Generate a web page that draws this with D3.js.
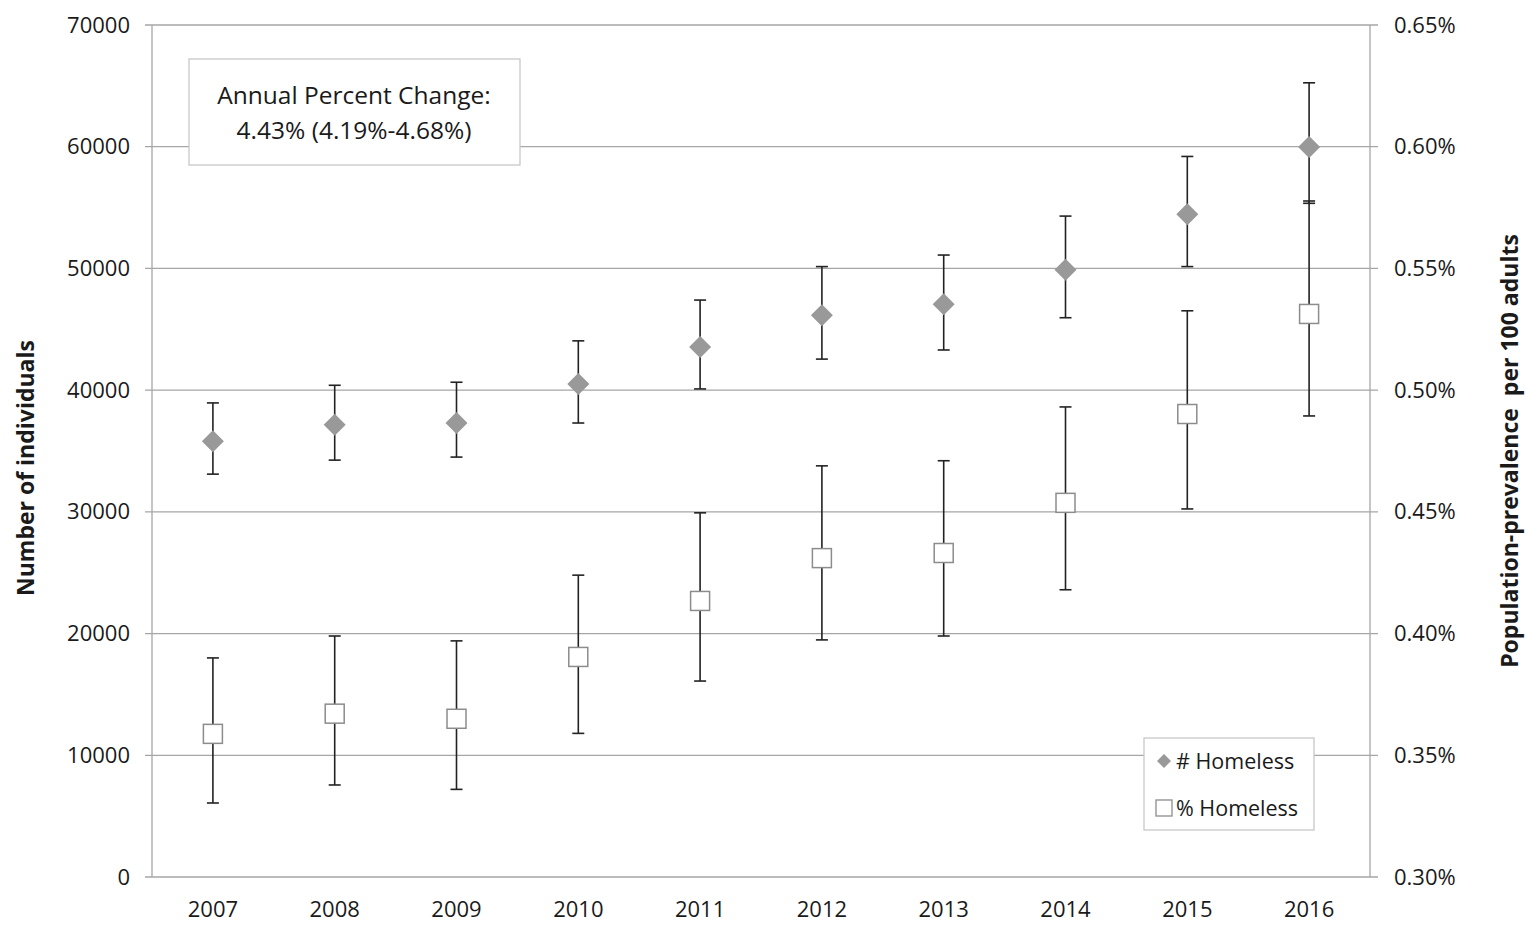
<!DOCTYPE html>
<meta charset="utf-8">
<style>
  body { margin: 0; background: #fff; }
  text { font-family: "Open Sans", "Noto Sans", sans-serif; fill: #1a1a1a; }
  .tick text { font-size: 22px; }
</style>
<body>
<svg class="chart"></svg>
<script src="https://d3js.org/d3.v7.min.js"></script>
<script>

// Data
var years = ["2007","2008","2009","2010","2011","2012","2013","2014","2015","2016"];

// # Homeless (left axis) with 95% interval
var countVal = [35800, 37150, 37300, 40500, 43550, 46150, 47050, 49900, 54450, 59980];
var countLo  = [33100, 34250, 34500, 37300, 40100, 42550, 43300, 45950, 50150, 55350];
var countHi  = [38950, 40400, 40650, 44050, 47400, 50150, 51100, 54300, 59200, 65250];

// % Homeless (right axis, percent) with 95% interval
var pctVal = [0.3588, 0.3671, 0.3650, 0.3904, 0.4134, 0.4310, 0.4331, 0.4537, 0.4902, 0.5313];
var pctLo  = [0.3304, 0.3378, 0.3360, 0.3590, 0.3805, 0.3974, 0.3990, 0.4180, 0.4512, 0.4894];
var pctHi  = [0.3900, 0.3990, 0.3970, 0.4240, 0.4496, 0.4689, 0.4710, 0.4931, 0.5326, 0.5777];

var leftTicks  = [0, 10000, 20000, 30000, 40000, 50000, 60000, 70000];
var rightTicks = [0.30, 0.35, 0.40, 0.45, 0.50, 0.55, 0.60, 0.65];

var margin = { top: 25, right: 156, bottom: 53, left: 152 };
var W = 1526, H = 930;
var width = W - margin.left - margin.right;
var height = H - margin.top - margin.bottom;

var svg = d3.select(".chart").attr("width", W).attr("height", H);
var chart = svg.append("g")
    .attr("transform", "translate(" + margin.left + "," + margin.top + ")");

var x = d3.scaleBand().domain(years).range([0, width]);
var yL = d3.scaleLinear().domain([0, 70000]).range([height, 0]);
var yR = d3.scaleLinear().domain([0.30, 0.65]).range([height, 0]);

var grid = "#a6a6a6";

// gridlines (with the little outer ticks on both sides)
chart.selectAll("line.grid")
    .data(leftTicks)
  .enter().append("line")
    .attr("class", "grid")
    .attr("x1", -7).attr("x2", width + 8)
    .attr("y1", function(d) { return yL(d); })
    .attr("y2", function(d) { return yL(d); })
    .attr("stroke", grid).attr("stroke-width", 1.3);

// vertical axis lines
chart.append("line").attr("x1", 0).attr("x2", 0).attr("y1", 0).attr("y2", height)
    .attr("stroke", grid).attr("stroke-width", 1.3);
chart.append("line").attr("x1", width).attr("x2", width).attr("y1", 0).attr("y2", height)
    .attr("stroke", grid).attr("stroke-width", 1.3);

// left axis labels
var leftAxis = chart.append("g")
    .call(d3.axisLeft(yL).tickValues(leftTicks).tickSize(0).tickPadding(22).tickFormat(d3.format("d")));
leftAxis.select(".domain").remove();

// right axis labels
var rightAxis = chart.append("g")
    .attr("transform", "translate(" + width + ",0)")
    .call(d3.axisRight(yR).tickValues(rightTicks).tickSize(0).tickPadding(24)
      .tickFormat(function(d) { return d.toFixed(2) + "%"; }));
rightAxis.select(".domain").remove();

// bottom axis labels
var bottomAxis = chart.append("g")
    .attr("transform", "translate(0," + height + ")")
    .call(d3.axisBottom(x).tickSize(0).tickPadding(24));
bottomAxis.select(".domain").remove();

chart.selectAll(".tick text").style("fill", "#1a1a1a");

// axis titles
svg.append("text")
    .attr("transform", "translate(34," + (margin.top + height * 0.52) + ") rotate(-90)")
    .attr("text-anchor", "middle")
    .style("font-size", "23px").style("font-weight", "bold")
    .text("Number of individuals");

svg.append("text")
    .attr("transform", "translate(1518," + (margin.top + height * 0.5) + ") rotate(-90)")
    .attr("text-anchor", "middle")
    .style("font-size", "23px").style("font-weight", "bold")
    .style("white-space", "pre")
    .text("Population-prevalence  per 100 adults");

var cx = function(i) { return x(years[i]) + x.bandwidth() / 2; };
var idx = d3.range(years.length);

function errorBars(lo, hi, scale) {
  var g = chart.append("g").attr("stroke", "#222").attr("stroke-width", 1.6);
  g.selectAll("line.v").data(idx).enter().append("line")
      .attr("x1", cx).attr("x2", cx)
      .attr("y1", function(i) { return scale(lo[i]); })
      .attr("y2", function(i) { return scale(hi[i]); });
  g.selectAll("line.t").data(idx).enter().append("line")
      .attr("x1", function(i) { return cx(i) - 6; }).attr("x2", function(i) { return cx(i) + 6; })
      .attr("y1", function(i) { return scale(hi[i]); }).attr("y2", function(i) { return scale(hi[i]); });
  g.selectAll("line.b").data(idx).enter().append("line")
      .attr("x1", function(i) { return cx(i) - 6; }).attr("x2", function(i) { return cx(i) + 6; })
      .attr("y1", function(i) { return scale(lo[i]); }).attr("y2", function(i) { return scale(lo[i]); });
}

errorBars(pctLo, pctHi, yR);
errorBars(countLo, countHi, yL);

// squares (% Homeless)
chart.selectAll("rect.pct").data(idx).enter().append("rect")
    .attr("class", "pct")
    .attr("x", function(i) { return cx(i) - 9.5; })
    .attr("y", function(i) { return yR(pctVal[i]) - 9.5; })
    .attr("width", 19).attr("height", 19)
    .attr("fill", "#fff").attr("stroke", "#8c8c8c").attr("stroke-width", 1.5);

// diamonds (# Homeless)
var diamond = "M0,-11L11,0L0,11L-11,0Z";
chart.selectAll("path.cnt").data(idx).enter().append("path")
    .attr("class", "cnt")
    .attr("d", diamond)
    .attr("transform", function(i) { return "translate(" + cx(i) + "," + yL(countVal[i]) + ")"; })
    .attr("fill", "#999");

// annual percent change box
var box = svg.append("g").attr("transform", "translate(189,59)");
box.append("rect").attr("width", 331).attr("height", 106)
    .attr("fill", "#fff").attr("stroke", "#c8c8c8").attr("stroke-width", 1.3);
box.append("text").attr("x", 165).attr("y", 45).attr("text-anchor", "middle")
    .style("font-size", "24.5px").text("Annual Percent Change:");
box.append("text").attr("x", 165).attr("y", 80).attr("text-anchor", "middle")
    .style("font-size", "24.5px").text("4.43% (4.19%-4.68%)");

// legend
var leg = svg.append("g").attr("transform", "translate(1144,738)");
leg.append("rect").attr("width", 170).attr("height", 92)
    .attr("fill", "#fff").attr("stroke", "#c8c8c8").attr("stroke-width", 1.3);
leg.append("path").attr("d", "M0,-7L7,0L0,7L-7,0Z")
    .attr("transform", "translate(20,23)").attr("fill", "#999");
leg.append("text").attr("x", 32).attr("y", 31).style("font-size", "21.5px").text("# Homeless");
leg.append("rect").attr("x", 12).attr("y", 62).attr("width", 16).attr("height", 16)
    .attr("fill", "#fff").attr("stroke", "#8c8c8c").attr("stroke-width", 1.3);
leg.append("text").attr("x", 32).attr("y", 78).style("font-size", "21.5px").text("% Homeless");

</script>
</body>
